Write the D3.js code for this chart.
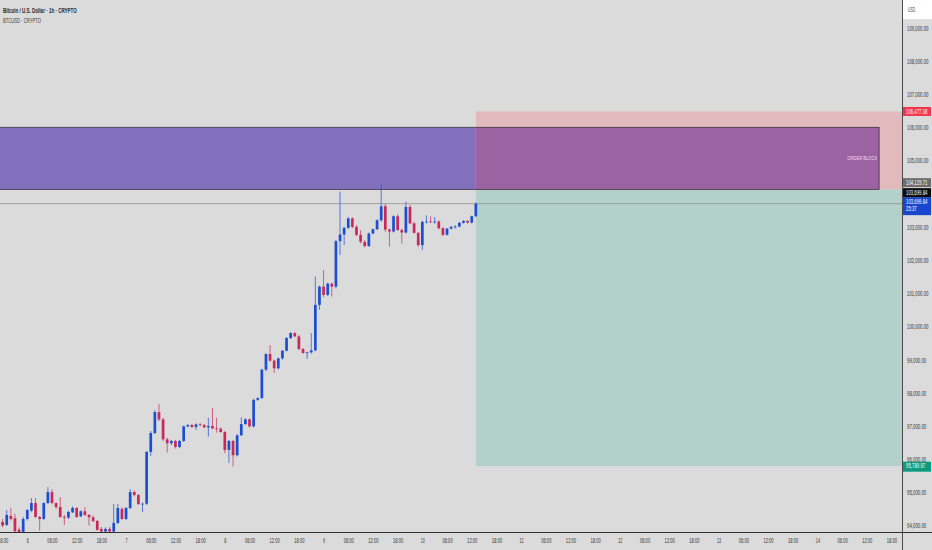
<!DOCTYPE html>
<html><head><meta charset="utf-8">
<script src="https://cdn.jsdelivr.net/npm/d3@7"></script>
<style>
html,body{margin:0;padding:0;background:#dbdbdb;overflow:hidden}
svg{display:block}
text{font-family:"Liberation Sans",Arial,sans-serif}
</style></head>
<body><svg id="c" width="932" height="550"></svg>
<script>
// ---------- data ----------
const titleText = "Bitcoin / U.S. Dollar · 1h · CRYPTO";
const subtitleText = "BTCUSD · CRYPTO";
const currency = "USD";
const firstCandle = Date.UTC(2025, 4, 5, 17); // hourly candles from May 5 17:00
const opens = [94530,94110,94020,94290,94220,93880,93810,94200,94450,94680,94260,94200,94680,95010,94680,94560,94260,94240,94400,94530,94280,94430,94320,94250,94140,93900,93820,93900,93820,94080,94500,94200,94530,95010,94920,94650,94660,96220,96790,
97420,97200,96600,96480,96550,96370,96550,96990,97030,96970,97050,97030,96960,97000,96930,96920,96820,96280,96550,96120,96720,97060,97200,96990,97790,97840,98700,
99170,98970,98740,99040,99270,99650,99800,99700,99320,99200,99220,99280,100650,101200,100950,101290,101200,102570,102770,
102970,103255,103000,102760,102550,102420,102800,102930,103200,103620,102920,102860,103320,102905,102830,103600,103105,102820,102450,103150,103160,103150,103160,102960,102760,102950,103000,103010,103120,103180,103130,103320];
const highs = [94620,94200,94470,94530,94350,93950,94260,94500,94830,94830,94290,94700,95160,95100,94700,94860,94320,94450,94580,94560,94460,94560,94350,94300,94170,93960,93950,93950,94650,94650,94560,94560,95100,95060,94950,94700,96250,96850,97480,
97660,97250,96650,96580,96580,96580,97010,97060,97060,97080,97090,97060,97250,97540,97250,96960,96850,96580,96580,96750,97260,97230,97230,97820,97870,98720,99190,
99440,99000,99060,99290,99680,99830,99840,99740,99350,99240,99800,101500,101230,101700,101320,101320,102600,104060,103000,
103300,103290,103060,102900,102600,102830,102950,103230,104290,103700,102950,103350,103380,102950,103760,103660,103150,102850,103180,103350,103320,103300,103200,103000,102960,103030,103050,103150,103200,103200,103340,103740];
const lows = [94020,93950,93990,94150,93800,93800,93800,94150,94400,94230,93850,94170,94650,94650,94500,94230,94020,94200,94380,94230,94250,94290,94000,94100,93850,93800,93800,93800,93800,94050,94170,94170,94500,94880,94620,94410,94620,96100,96750,
97150,96550,96200,96420,96320,96330,96520,96960,96940,96880,96990,96940,96680,96900,96800,96800,96180,95890,95780,96080,96700,97030,96960,96950,97760,97820,98650,
98940,98600,98700,99000,99250,99620,99680,99280,99180,99020,99180,99250,100500,100880,100920,100900,101150,102150,102450,
102940,102960,102720,102500,102380,102400,102780,102900,103150,102850,102400,102830,102880,102500,102800,103080,102800,102400,102300,103100,103120,103100,102920,102720,102740,102920,102950,102990,103100,103100,103100,103300];
const closes = [94080,94000,94320,94200,93830,93810,94200,94470,94680,94260,94200,94680,95010,94680,94560,94260,94240,94410,94530,94260,94430,94320,94250,94140,93870,93820,93900,93820,94080,94530,94200,94530,95010,94920,94650,94660,96220,96790,97420,
97200,96600,96480,96550,96370,96550,96990,97030,96970,97050,97030,96960,97000,96930,96920,96820,96280,96550,96120,96720,97060,97200,96990,97790,97840,98700,99170,
98970,98740,99040,99270,99650,99800,99700,99320,99200,99220,99280,100650,101200,100950,101290,101200,102570,102770,102970,
103255,103000,102760,102550,102420,102800,102930,103200,103620,102920,102860,103320,102905,102830,103600,103105,102820,102450,103150,103160,103150,103160,102960,102760,102950,103000,103010,103120,103180,103130,103320,103699.84];
const priceTicks = [94000,95000,96000,97000,98000,99000,100000,101000,102000,103000,104000,105000,106000,107000,108000,109000];
const orderBlock = {top:106000, bottom:104129.71, start:Date.UTC(2025,4,4,0), end:Date.UTC(2025,4,14,15), label:"ORDER BLOCK"};
const position = {start:Date.UTC(2025,4,10,13), stop:106477.08, entry:104129.71, target:95789.97};
const lastPrice = 103699.84;
const countdown = "25:37";

// ---------- layout ----------
const W = 932, H = 550, plotR = 902, plotB = 532;
const AXF = 6.8;
const svg = d3.select("#c");
const x = d3.scaleUtc().domain([Date.UTC(2025,4,6), Date.UTC(2025,4,15)]).range([27.3, 27.3 + 9*98.76]);
const y = d3.scaleLinear().domain([94000,106000]).range([525.6,127.3]);
const fmt = d3.format(",.2f");
const candles = opens.map((o,i)=>({t:new Date(firstCandle + i*3600e3), o, h:highs[i], l:lows[i], c:closes[i]}));

// condense a text horizontally to a target width per character
function condense(sel, perChar){
  sel.each(function(){
    const t = d3.select(this);
    const n = this.getComputedTextLength();
    if (!n) return;
    const target = t.text().length * perChar;
    const s = target / n;
    const x0 = +t.attr("x") || 0, y0 = +t.attr("y") || 0;
    t.attr("x", 0).attr("y", 0).attr("transform", `translate(${x0},${y0}) scale(${s},1)`);
  });
}

svg.append("rect").attr("width",W).attr("height",H).attr("fill","#dbdbdb");
svg.append("defs").append("clipPath").attr("id","plot").append("rect").attr("x",0).attr("y",0).attr("width",plotR).attr("height",plotB);
const g = svg.append("g").attr("clip-path","url(#plot)");

// position tool
const px0 = x(position.start);
g.append("rect").attr("x",px0).attr("y",y(position.stop)).attr("width",plotR-px0).attr("height",y(position.entry)-y(position.stop)).attr("fill","#e2babe");
g.append("rect").attr("x",px0).attr("y",y(position.entry)).attr("width",plotR-px0).attr("height",y(position.target)-y(position.entry)).attr("fill","#b3d0ca");

// order block (two tones: plain / over stop zone)
const obx0 = x(orderBlock.start), obx1 = x(orderBlock.end);
g.append("rect").attr("x",obx0).attr("y",y(orderBlock.top)).attr("width",px0-obx0).attr("height",y(orderBlock.bottom)-y(orderBlock.top)).attr("fill","#8270bd");
g.append("rect").attr("x",px0).attr("y",y(orderBlock.top)).attr("width",obx1-px0).attr("height",y(orderBlock.bottom)-y(orderBlock.top)).attr("fill","#9b63a2");
g.append("rect").attr("x",obx0).attr("y",y(orderBlock.top)).attr("width",obx1-obx0).attr("height",y(orderBlock.bottom)-y(orderBlock.top)).attr("fill","none").attr("stroke","#3a3340").attr("stroke-width",0.8);
const obText = svg.append("text").attr("x",obx1-2).attr("y",(y(orderBlock.top)+y(orderBlock.bottom))/2+2).attr("text-anchor","end")
 .attr("font-size",6.2).attr("fill","#f3dcf0").text(orderBlock.label);
condense(obText, 2.7);

// last price line
g.append("line").attr("x1",0).attr("x2",plotR).attr("y1",y(lastPrice)).attr("y2",y(lastPrice)).attr("stroke","#8a8a8a").attr("stroke-width",0.7);

// candles
const bw = 2.7;
const cg = g.append("g");
cg.selectAll("line.w").data(candles).join("line").attr("class","w")
 .attr("x1",d=>x(d.t)).attr("x2",d=>x(d.t)).attr("y1",d=>y(d.h)).attr("y2",d=>y(d.l))
 .attr("stroke",d=>d.c>=d.o?"#1f4fcf":"#c8285a").attr("stroke-width",0.7);
cg.selectAll("rect.b").data(candles).join("rect").attr("class","b")
 .attr("x",d=>x(d.t)-bw/2).attr("width",bw)
 .attr("y",d=>y(Math.max(d.o,d.c))).attr("height",d=>Math.max(0.8,Math.abs(y(d.o)-y(d.c))))
 .attr("fill",d=>d.c>=d.o?"#1c4ed2":"#c8285a");

// axes lines
svg.append("line").attr("x1",0).attr("x2",W).attr("y1",plotB+0.5).attr("y2",plotB+0.5).attr("stroke","#2e2e2e").attr("stroke-width",1);
svg.append("line").attr("x1",plotR+0.5).attr("x2",plotR+0.5).attr("y1",0).attr("y2",H).attr("stroke","#4a4a4a").attr("stroke-width",1);

// y axis
const yAxis = d3.axisRight(y).tickValues(priceTicks).tickSize(0).tickPadding(0).tickFormat(fmt);
const ya = svg.append("g").attr("transform",`translate(${plotR+5},0)`).call(yAxis);
ya.select(".domain").remove();
ya.selectAll("text").attr("font-size",AXF).attr("fill","#333").attr("dy","0.35em").attr("font-family","'Liberation Sans',Arial,sans-serif");
condense(ya.selectAll("text"), 2.15);

// x axis
const xt = d3.utcHour.every(6).range(Date.UTC(2025,4,5,18), Date.UTC(2025,4,14,19));
const xAxis = d3.axisBottom(x).tickValues(xt).tickSize(0).tickPadding(0)
 .tickFormat(d=>d.getUTCHours()===0 ? String(d.getUTCDate()) : d3.utcFormat("%H:%M")(d));
const xa = svg.append("g").attr("transform",`translate(0,${plotB+5})`).call(xAxis);
xa.select(".domain").remove();
xa.selectAll("text").attr("font-size",AXF).attr("fill","#333").attr("dy","0.9em").attr("font-family","'Liberation Sans',Arial,sans-serif");
condense(xa.selectAll("text"), 2.05);

// price label boxes on right axis
function tag(yc, h, bg, lines, fg){
  const gg = svg.append("g");
  gg.append("rect").attr("x",plotR+1).attr("y",yc).attr("width",W-plotR-2).attr("height",h).attr("fill",bg);
  lines.forEach((s,i)=>{
    const t = gg.append("text").attr("x",plotR+4).attr("y",yc+6.8+i*7).attr("font-size",AXF).attr("fill",fg||"#fff").text(s);
    condense(t, 2.15);
  });
}
const blueTop = y(lastPrice)-6.5;
tag(y(position.stop)-4.5, 9, "#f0364a", [fmt(position.stop)]);
tag(blueTop, 18, "#1747cf", [fmt(lastPrice), countdown]);
tag(blueTop-9, 9, "#0c0c0c", [fmt(lastPrice)]);
tag(blueTop-19, 9, "#6e6e6e", [fmt(position.entry)]);
tag(y(position.target)-4.5, 10, "#0a9a7f", [fmt(position.target)]);

// currency box
svg.append("rect").attr("x",plotR+1).attr("y",0).attr("width",W-plotR-1).attr("height",19).attr("fill","#ffffff");
condense(svg.append("text").attr("x",plotR+6).attr("y",12).attr("font-size",AXF).attr("fill","#444").text(currency), 2.4);

// titles
condense(svg.append("text").attr("x",3).attr("y",12.5).attr("font-size",7).attr("font-weight","bold").attr("fill","#2a2a2a").text(titleText), 74/titleText.length);
condense(svg.append("text").attr("x",3).attr("y",23).attr("font-size",7).attr("fill","#3c3c3c").text(subtitleText), 38/subtitleText.length);
</script></body></html>
